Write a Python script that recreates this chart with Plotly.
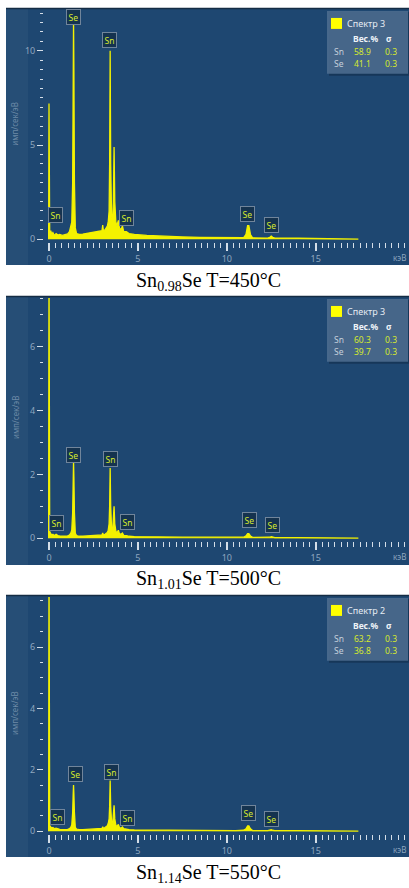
import plotly.graph_objects as go

W, H = 409, 888

energy_kev = [-0.02, 0.00, 0.04, 0.10, 0.15, 0.22, 0.30, 0.40, 0.50, 0.60,
              0.75, 0.90, 1.05, 1.15, 1.22, 1.28, 1.33, 1.36, 1.38, 1.40,
              1.43, 1.48, 1.55, 1.70, 1.90, 2.10, 2.30, 2.50, 2.70, 2.85,
              2.98, 3.02, 3.06, 3.15, 3.22, 3.28, 3.33, 3.38, 3.41, 3.44,
              3.47, 3.52, 3.58, 3.62, 3.66, 3.70, 3.76, 3.82, 3.90, 3.96,
              4.05, 4.13, 4.20, 4.35, 4.50, 4.80, 5.50, 6.50, 7.50, 8.50,
              9.50, 10.50, 10.95, 11.08, 11.17, 11.24, 11.33, 11.45, 12.30, 12.42,
              12.50, 12.58, 12.70, 14.00, 15.50, 17.00, 17.40]

counts_450 = [0.0, 7.2, 0.30, 0.45, 0.25, 0.35, 0.20, 0.30, 0.22, 0.25,
              0.20, 0.22, 0.28, 0.40, 0.60, 0.90, 3.0, 9.0, 11.6, 9.0,
              3.0, 0.60, 0.30, 0.25, 0.27, 0.30, 0.33, 0.35, 0.38, 0.40,
              0.45, 0.75, 0.45, 0.50, 0.60, 0.70, 0.90, 1.5, 4.0, 10.0,
              4.0, 1.2, 1.0, 2.0, 4.9, 2.0, 0.90, 0.70, 1.0, 0.60,
              0.50, 0.70, 0.40, 0.40, 0.30, 0.25, 0.20, 0.15, 0.12, 0.10,
              0.08, 0.07, 0.08, 0.25, 0.72, 0.72, 0.25, 0.07, 0.06, 0.10,
              0.16, 0.10, 0.06, 0.05, 0.04, 0.03, 0.0]

counts_500 = [0.0, 9.0, 0.20, 0.15, 0.10, 0.12, 0.08, 0.12, 0.08, 0.07,
              0.06, 0.06, 0.07, 0.10, 0.15, 0.25, 0.8, 1.9, 2.4, 1.9,
              0.8, 0.15, 0.08, 0.06, 0.06, 0.07, 0.07, 0.08, 0.08, 0.09,
              0.10, 0.16, 0.10, 0.12, 0.14, 0.18, 0.25, 0.45, 1.0, 2.2,
              1.0, 0.30, 0.25, 0.50, 1.0, 0.45, 0.22, 0.16, 0.25, 0.14,
              0.12, 0.16, 0.09, 0.08, 0.06, 0.05, 0.04, 0.035, 0.03, 0.03,
              0.025, 0.025, 0.03, 0.07, 0.14, 0.14, 0.07, 0.025, 0.02, 0.03,
              0.05, 0.03, 0.02, 0.02, 0.015, 0.01, 0.0]

counts_550 = [0.0, 9.0, 0.18, 0.14, 0.10, 0.12, 0.08, 0.10, 0.07, 0.06,
              0.05, 0.05, 0.06, 0.08, 0.12, 0.20, 0.6, 1.2, 1.5, 1.2,
              0.6, 0.12, 0.07, 0.05, 0.05, 0.06, 0.06, 0.07, 0.07, 0.08,
              0.09, 0.14, 0.09, 0.12, 0.15, 0.18, 0.25, 0.40, 0.8, 1.65,
              0.8, 0.28, 0.25, 0.45, 0.84, 0.40, 0.20, 0.15, 0.22, 0.12,
              0.10, 0.14, 0.08, 0.07, 0.05, 0.04, 0.035, 0.03, 0.03, 0.025,
              0.025, 0.02, 0.03, 0.08, 0.17, 0.17, 0.08, 0.02, 0.02, 0.03,
              0.05, 0.03, 0.02, 0.02, 0.015, 0.01, 0.0]

captions = ["Sn<sub>0.98</sub>Se T=450°C",
            "Sn<sub>1.01</sub>Se T=500°C",
            "Sn<sub>1.14</sub>Se T=550°C"]
spectrum_names = ["Спектр 3", "Спектр 3", "Спектр 2"]
sn_wt = ["58.9", "60.3", "63.2"]
se_wt = ["41.1", "39.7", "36.8"]
sn_sigma = ["0.3", "0.3", "0.3"]
se_sigma = ["0.3", "0.3", "0.3"]
peak_names = ["Sn", "Se", "Sn", "Sn", "Se", "Se"]
x_major_ticks = [0, 5, 10, 15]
y_title = "имп/сек/эВ"
x_title = "кэВ"

spectra = [counts_450, counts_500, counts_550]

panels = [
    dict(top=8, bottom=266, ptop=10, pbot=243, zero=240, ppu=18.9, dtick=5, cap=282,
         peaks=[(0.39, 1.27), (1.40, 11.8), (3.43, 10.6), (4.38, 1.11), (11.18, 1.32), (12.53, 0.74)]),
    dict(top=297, bottom=567, ptop=299, pbot=543, zero=540, ppu=32.0, dtick=2, cap=581,
         peaks=[(0.42, 0.48), (1.40, 2.62), (3.48, 2.48), (4.44, 0.50), (11.26, 0.56), (12.56, 0.40)]),
    dict(top=597, bottom=860, ptop=599, pbot=837, zero=834, ppu=30.8, dtick=2, cap=876,
         peaks=[(0.50, 0.47), (1.49, 1.87), (3.51, 1.94), (4.41, 0.44), (11.24, 0.58), (12.53, 0.40)]),
]
PANEL_L = 6
PLOT_L = 44
X0_PX = 49
PPK = 17.78
MINOR_STEP = 5 / 14

BG = "#1e4771"
YEL = "#f4f200"
TICKC = "#d4dee8"
TICKF = "#8ea6bf"
LBL = "#d6ea2e"

def px(p):
    return p / W

def py(p):
    return 1 - p / H

fig = go.Figure()
layout = dict(width=W, height=H, margin=dict(l=0, r=0, t=0, b=0),
              paper_bgcolor="white", plot_bgcolor="rgba(0,0,0,0)",
              showlegend=False, shapes=[], annotations=[])

xr = [(PLOT_L - X0_PX) / PPK, (W - X0_PX) / PPK]
minor_vals = [k * MINOR_STEP for k in range(int(xr[1] / MINOR_STEP) + 1)]

for i, (pan, cts) in enumerate(zip(panels, spectra)):
    sfx = "" if i == 0 else str(i + 1)
    fig.add_trace(go.Scatter(x=energy_kev, y=cts, mode="lines",
                             line=dict(color=YEL, width=1.3),
                             fill="tozeroy", fillcolor=YEL,
                             xaxis="x" + sfx, yaxis="y" + sfx,
                             hoverinfo="skip", showlegend=False))
    yr = [(pan["zero"] - pan["pbot"]) / pan["ppu"], (pan["zero"] - pan["ptop"]) / pan["ppu"]]
    layout["xaxis" + sfx] = dict(
        domain=[px(PLOT_L), 1], range=xr, anchor="y" + sfx,
        tickmode="array", tickvals=x_major_ticks, ticktext=[str(v) for v in x_major_ticks],
        ticks="outside", ticklen=8, tickwidth=1.5, tickcolor=TICKC,
        minor=dict(ticks="outside", tickmode="array", tickvals=minor_vals, ticklen=5,
                   tickwidth=1.3, tickcolor=TICKC),
        tickfont=dict(size=9, color=TICKF, family="Noto Sans"),
        showgrid=False, zeroline=False, showline=False, fixedrange=True)
    layout["yaxis" + sfx] = dict(
        domain=[py(pan["pbot"]), py(pan["ptop"])], range=yr, anchor="x" + sfx,
        tick0=0, dtick=pan["dtick"],
        ticks="outside", ticklen=6, tickwidth=1.2, tickcolor=TICKC,
        minor=dict(ticks="outside", dtick=0.5, ticklen=3, tickcolor=TICKC, tickwidth=1.2),
        tickfont=dict(size=9, color=TICKF, family="Noto Sans"),
        showgrid=False, zeroline=False, showline=False, fixedrange=True)

    layout["shapes"].append(dict(type="rect", xref="paper", yref="paper",
                                 x0=px(PANEL_L), x1=1, y0=py(pan["bottom"]), y1=py(pan["top"]),
                                 fillcolor=BG, line=dict(width=0), layer="below"))
    layout["shapes"].append(dict(type="rect", xref="paper", yref="paper",
                                 x0=px(PANEL_L), x1=px(28), y0=py(pan["bottom"]), y1=py(pan["top"]),
                                 fillcolor="rgba(255,255,255,0.04)", line=dict(width=0), layer="below"))
    layout["shapes"].append(dict(type="line", xref="paper", yref="paper",
                                 x0=px(PANEL_L), x1=1, y0=py(pan["top"] + 0.5), y1=py(pan["top"] + 0.5),
                                 line=dict(color="#142c44", width=1.5), layer="below"))

    T = pan["top"]
    layout["shapes"].append(dict(type="rect", xref="paper", yref="paper",
                                 x0=px(329), x1=px(409), y0=py(T + 68), y1=py(T + 4),
                                 fillcolor="rgba(10,25,45,0.35)", line=dict(width=0)))
    layout["shapes"].append(dict(type="rect", xref="paper", yref="paper",
                                 x0=px(327), x1=px(408), y0=py(T + 66), y1=py(T + 3),
                                 fillcolor="#4b6b8e", line=dict(width=0), opacity=0.9))
    layout["shapes"].append(dict(type="rect", xref="paper", yref="paper",
                                 x0=px(331), x1=px(342), y0=py(T + 21), y1=py(T + 10),
                                 fillcolor="#ffff00", line=dict(width=0)))

    def ptxt(x, y, t, color, size=8.5, bold=False):
        layout["annotations"].append(dict(
            xref="paper", yref="paper", x=px(x), y=py(y), xanchor="left", yanchor="middle",
            text=("<b>%s</b>" % t) if bold else t, showarrow=False,
            font=dict(size=size, color=color, family="Noto Sans")))

    ptxt(345, T + 16, spectrum_names[i], "#e6edf4", 9)
    ptxt(351, T + 31, "Вес.%", "#eef3f8", 8.5, True)
    ptxt(384, T + 31, "σ", "#eef3f8", 8.5, True)
    ptxt(332, T + 44, "Sn", "#c5d0dc")
    ptxt(352, T + 44, sn_wt[i], LBL)
    ptxt(383, T + 44, sn_sigma[i], LBL)
    ptxt(332, T + 56, "Se", "#c5d0dc")
    ptxt(352, T + 56, se_wt[i], LBL)
    ptxt(383, T + 56, se_sigma[i], LBL)

    for name, (xe, yv) in zip(peak_names, pan["peaks"]):
        layout["annotations"].append(dict(
            xref="x" + sfx, yref="y" + sfx, x=xe, y=yv, text=name, showarrow=False,
            xanchor="center", yanchor="middle",
            font=dict(size=8.5, color=LBL, family="Noto Sans"),
            bgcolor="#15334f", bordercolor="#71859b", borderwidth=1, borderpad=1.5))

    yc = pan["top"] + (pan["bottom"] - pan["top"]) * 0.45
    layout["annotations"].append(dict(
        xref="paper", yref="paper", x=px(15), y=py(yc), text=y_title, textangle=-90,
        showarrow=False, xanchor="center", yanchor="middle",
        font=dict(size=8, color="rgba(170,190,210,0.55)", family="Noto Sans")))
    layout["annotations"].append(dict(
        xref="paper", yref="paper", x=px(408), y=py(pan["pbot"] + 15), text=x_title,
        showarrow=False, xanchor="right", yanchor="middle",
        font=dict(size=8, color=TICKF, family="Noto Sans")))

    layout["annotations"].append(dict(
        xref="paper", yref="paper", x=px(208), y=py(pan["cap"]), text=captions[i],
        showarrow=False, xanchor="center", yanchor="middle",
        font=dict(size=20, color="black", family="Liberation Serif")))

fig.update_layout(**layout)
fig.write_html("out.html")
